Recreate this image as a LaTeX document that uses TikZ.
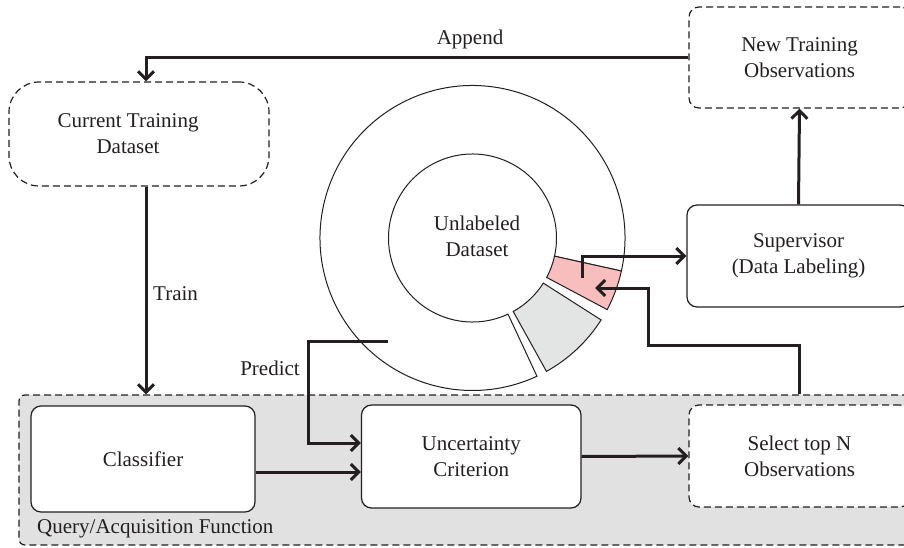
\documentclass[tikz,border=0pt]{standalone}
\usepackage{fontspec}
\setmainfont{Liberation Serif}
\usetikzlibrary{arrows.meta,calc}
\definecolor{ink}{HTML}{231F20}
\definecolor{framegray}{HTML}{E1E1E1}
\definecolor{wedgegray}{HTML}{E3E4E4}
\definecolor{wedgered}{HTML}{F8BEBE}
\begin{document}
\begin{tikzpicture}[x=1pt,y=1pt,
  every node/.style={font=\fontsize{21}{26}\selectfont, text=ink, inner sep=0pt},
  solidbox/.style={draw=ink, line width=1.2pt, fill=white, rounded corners=10pt, align=center},
  dashbox/.style={solidbox, dash pattern=on 7pt off 4pt},
  arr/.style={draw=ink, line width=3pt, -{Straight Barb[length=8pt,width=16pt]}},
  sector/.style={draw=ink, line width=1pt}]
\useasboundingbox (0,0) rectangle (904,547);
\clip (0,0) rectangle (904,547);

% acquisition frame
\node[draw=ink, line width=1.2pt, dash pattern=on 7pt off 4pt, fill=framegray, rounded corners=6pt,
  minimum width=896pt, minimum height=150pt] (frame) at (467,77) {};
\node[anchor=base west] (qlabel) at (37,14) {Query/Acquisition Function};

% donut
\begin{scope}[shift={(472.5,309)}]
\filldraw[sector, fill=white] (-12.5:152.5pt) arc[start angle=-12.5, end angle=295, radius=152.5pt]
  -- (295:84pt) arc[start angle=295, end angle=-12.5, radius=84pt] -- cycle;
\filldraw[sector, fill=wedgered] (-28:152.5pt) arc[start angle=-28, end angle=-12.5, radius=152.5pt]
  -- (-12.5:84pt) arc[start angle=-12.5, end angle=-28, radius=84pt] -- cycle;
\filldraw[sector, fill=wedgegray] (-61:152.5pt) arc[start angle=-61, end angle=-32.5, radius=152.5pt]
  -- (-32.5:84pt) arc[start angle=-32.5, end angle=-61, radius=84pt] -- cycle;
\end{scope}
\node[align=center] (unl) at (477,311) {Unlabeled\\Dataset};

% boxes
\node[dashbox, rounded corners=30pt, minimum width=260pt, minimum height=104pt,
  label={[align=center, xshift=-11pt]center:Current Training\\Dataset}] (cur) at (139,413) {};
\node[dashbox, minimum width=221pt, minimum height=101pt] (newobs) at (799.5,489.5) {New Training\\Observations};
\node[solidbox, minimum width=223pt, minimum height=102pt] (sup) at (798.5,291) {Supervisor\\(Data Labeling)};
\node[solidbox, minimum width=224pt, minimum height=106pt] (cls) at (143,88) {Classifier};
\node[solidbox, minimum width=219.5pt, minimum height=103pt] (unc) at (471.25,90.5) {Uncertainty\\Criterion};
\node[dashbox, minimum width=221pt, minimum height=102pt] (sel) at (799.5,91) {Select top N\\Observations};

% labels
\node[anchor=base] (append) at (470,502) {Append};
\node[anchor=base west] (train) at (153,247) {Train};
\node[anchor=base east] (predict) at (300,172) {Predict};

% connectors
\draw[arr] (newobs.west) -| ([xshift=7pt]cur.north);
\draw[arr] ([xshift=7pt]cur.south) -- ([xshift=7pt]cur.south |- frame.north);
\draw[arr] (sup.north) -- (newobs.south);
\coordinate (redout) at (582,269);
\draw[arr] (redout) |- (sup.west);
\coordinate (redin) at (595,259);
\coordinate (bendA) at (648,202);
\draw[arr] (sel.north |- frame.north) |- (bendA) |- (redin);
\coordinate (pstart) at (388,206);
\coordinate (pbend) at (308,206);
\draw[arr] (pstart) -- (pbend) |- ([yshift=13.5pt]unc.west);
\draw[arr] ([yshift=-15.5pt]unc.west -| cls.east) -- ([yshift=-15.5pt]unc.west);
\draw[arr] (unc.east) -- (sel.west);
\end{tikzpicture}
\end{document}
